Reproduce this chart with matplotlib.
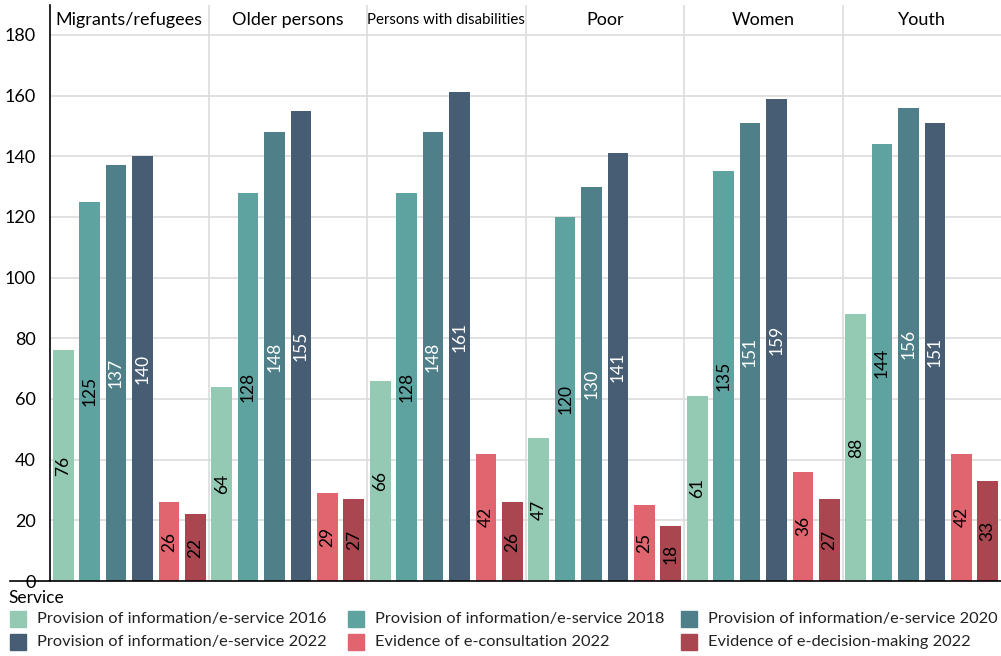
import numpy as np
import matplotlib
matplotlib.use("Agg")
import matplotlib.pyplot as plt
from matplotlib.patches import Rectangle
from matplotlib.lines import Line2D

plt.rcParams["font.family"] = ["Lato", "DejaVu Sans"]

groups = ["Migrants/refugees", "Older persons", "Persons with disabilities",
          "Poor", "Women", "Youth"]
series = [
    "Provision of information/e-service 2016",
    "Provision of information/e-service 2018",
    "Provision of information/e-service 2020",
    "Provision of information/e-service 2022",
    "Evidence of e-consultation 2022",
    "Evidence of e-decision-making 2022",
]
info_2016 = [76, 64, 66, 47, 61, 88]
info_2018 = [125, 128, 128, 120, 135, 144]
info_2020 = [137, 148, 148, 130, 151, 156]
info_2022 = [140, 155, 161, 141, 159, 151]
consult_2022 = [26, 29, 42, 25, 36, 42]
decision_2022 = [22, 27, 26, 18, 27, 33]
values = [info_2016, info_2018, info_2020, info_2022, consult_2022, decision_2022]

COLORS = ["#94CAB4", "#5FA3A0", "#4F7F88", "#475D73", "#E0656E", "#A9464F"]
LABEL_COLORS = ["black", "black", "white", "white", "black", "black"]
yticks = [0, 20, 40, 60, 80, 100, 120, 140, 160, 180]

W, H = 1001, 656
fig = plt.figure(figsize=(W / 100, H / 100), dpi=100)
ax = fig.add_axes([50 / W, 75 / H, 951 / W, 576 / H])

n = len(series)
width = 0.78
for j, (name, vals) in enumerate(zip(series, values)):
    x = np.arange(len(groups)) * n + j
    ax.bar(x, vals, width=width, color=COLORS[j], zorder=3, label=name)
    for xi, v in zip(x, vals):
        ax.text(xi, v / 2, str(v), rotation=90, ha="center", va="center",
                fontsize=12.5, color=LABEL_COLORS[j], zorder=4)

ymax = 180 + 30 / 61 * 20
ax.set_xlim(-0.5, len(groups) * n - 0.5)
ax.set_ylim(0, ymax)
ax.set_yticks(yticks)
ax.set_yticklabels([str(t) for t in yticks], fontsize=13)
ax.tick_params(axis="y", length=0, pad=10)
ax.set_xticks([])
for t in yticks[1:]:
    ax.axhline(t, color="#dcdcdc", lw=1.2, zorder=1)
for i in range(1, len(groups)):
    ax.axvline(i * n - 0.5, color="#dcdcdc", lw=1.2, zorder=1)
for i, g in enumerate(groups):
    ax.text(i * n + (n - 1) / 2, 180 + 15 / 61 * 20, g, ha="center", va="center",
            fontsize=13 if len(g) < 20 else 10.8)

for s in ["top", "right", "bottom"]:
    ax.spines[s].set_visible(False)
ax.spines["left"].set_color("black")
ax.spines["left"].set_linewidth(1.2)
fig.add_artist(Line2D([10 / W, 1], [75 / H, 75 / H], color="black", lw=1.2))

# legend, laid out by hand (3 columns x 2 rows)
fig.text(8 / W, 1 - 598 / H, "Service", fontsize=12.5, va="center", ha="left")
col_x = [10, 348, 681]
row_y = [619, 642]
for k, name in enumerate(series):
    cx = col_x[k % 3]
    cy = row_y[k // 3]
    fig.add_artist(Rectangle((cx / W, 1 - (cy + 8) / H), 16 / W, 16 / H,
                             color=COLORS[k], transform=fig.transFigure))
    fig.text((cx + 27) / W, 1 - cy / H, name, fontsize=11.8, va="center",
             ha="left", color="#222222")

fig.savefig("out.png", dpi=100)
